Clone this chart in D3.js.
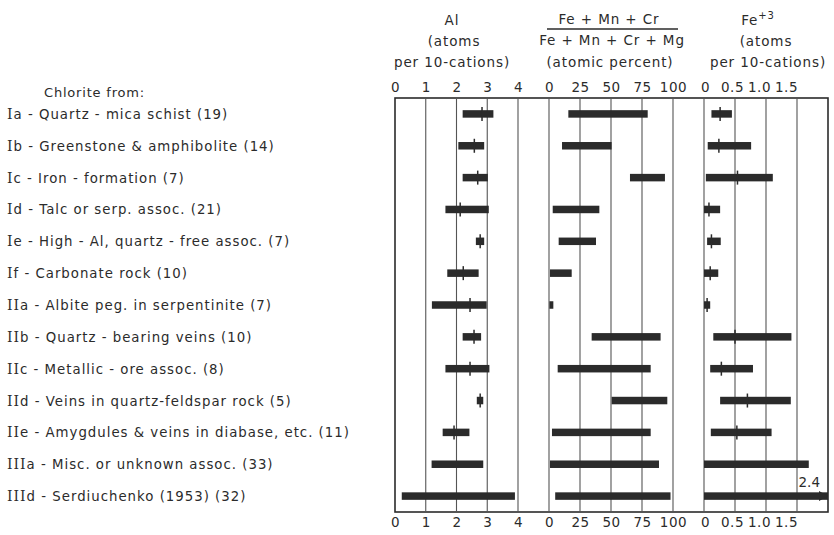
<!DOCTYPE html>
<html>
<head>
<meta charset="utf-8">
<script src="https://cdn.jsdelivr.net/npm/d3@7"></script>
<style>
  body { margin: 0; background: #fff; }
  text { font-family: "DejaVu Sans", sans-serif; fill: #2b2b2b; }
</style>
</head>
<body>
<svg id="chart" width="834" height="535"></svg>
<script>
// chlorite groups (roman numeral part, letter part, description)
var numerals = ['I','I','I','I','I','I','II','II','II','II','II','III','III'];
var letters  = ['a','b','c','d','e','f','a','b','c','d','e','a','d'];
var sources = [
  'Quartz - mica schist (19)',
  'Greenstone & amphibolite (14)',
  'Iron - formation (7)',
  'Talc or serp. assoc. (21)',
  'High - Al, quartz - free assoc. (7)',
  'Carbonate rock (10)',
  'Albite peg. in serpentinite (7)',
  'Quartz - bearing veins (10)',
  'Metallic - ore assoc. (8)',
  'Veins in quartz-feldspar rock (5)',
  'Amygdules & veins in diabase, etc. (11)',
  'Misc. or unknown assoc. (33)',
  'Serdiuchenko (1953) (32)'
];

// Al, atoms per 10 cations
var alMin  = [2.2, 2.06, 2.2, 1.64, 2.63, 1.7, 1.2, 2.2, 1.64, 2.66, 1.55, 1.19, 0.22];
var alMax  = [3.2, 2.9, 3.02, 3.05, 2.9, 2.72, 2.98, 2.8, 3.07, 2.87, 2.42, 2.87, 3.9];
var alMean = [2.83, 2.58, 2.69, 2.12, 2.77, 2.22, 2.44, 2.57, 2.44, 2.77, 1.92, null, null];

// (Fe+Mn+Cr)/(Fe+Mn+Cr+Mg), atomic percent
var feMin = [15.6, 10.5, 65.3, 3, 7.8, 0.8, 0.3, 34.4, 7, 50.5, 2.4, 0.8, 5];
var feMax = [79.6, 50.5, 93.5, 40.6, 37.9, 18.3, 3.5, 90, 82, 95.4, 82, 88.7, 98];

// Fe+3, atoms per 10 cations
var fe3Min  = [0.12, 0.06, 0.03, 0.0, 0.05, 0.0, 0.0, 0.15, 0.1, 0.26, 0.11, 0.0, 0.0];
var fe3Max  = [0.45, 0.76, 1.11, 0.26, 0.27, 0.23, 0.1, 1.41, 0.79, 1.4, 1.09, 1.69, 2.4];
var fe3Mean = [0.26, 0.24, 0.54, 0.08, 0.12, 0.1, 0.05, 0.5, 0.28, 0.7, 0.53, null, null];

var alTicks  = [0, 1, 2, 3, 4];
var feTicks  = [0, 25, 50, 75, 100];
var fe3Ticks = [0, 0.5, 1.0, 1.5];

var codes = numerals.map(function(n, i){ return n + letters[i]; });

var svg = d3.select('#chart');
var ink = '#2b2b2b';
var top_y = 98, bottom_y = 512;

var xAl  = d3.scaleLinear().domain([0, 4]).range([395, 518]);
var xFe  = d3.scaleLinear().domain([0, 100]).range([549, 673]);
var xFe3 = d3.scaleLinear().domain([0, 2]).range([704, 828]).clamp(true);
// hand lettered Fe+3 numbers sit a bit tighter than the grid
var xFe3Lbl = d3.scaleLinear().domain([0, 1.5]).range([705, 786]);

var y = d3.scaleBand().domain(codes).range([top_y, bottom_y]);

// frame
svg.append('rect')
  .attr('x', xAl(0)).attr('y', top_y)
  .attr('width', xFe3(2) - xAl(0)).attr('height', bottom_y - top_y)
  .attr('fill', 'none').attr('stroke', ink).attr('stroke-width', 1.6);

// grid lines
var grid = [];
alTicks.slice(1).forEach(function(t){ grid.push(xAl(t)); });
feTicks.forEach(function(t){ grid.push(xFe(t)); });
fe3Ticks.forEach(function(t){ grid.push(xFe3(t)); });

svg.append('g').selectAll('line')
  .data(grid)
  .enter().append('line')
  .attr('x1', function(d){ return d; }).attr('x2', function(d){ return d; })
  .attr('y1', top_y).attr('y2', bottom_y)
  .attr('stroke', '#555').attr('stroke-width', 1.1);

// tick labels top and bottom
function ticks(scale, vals, fmt){
  [[d3.axisTop, 92], [d3.axisBottom, 517]].forEach(function(a){
    var g = svg.append('g')
      .attr('transform', 'translate(0,' + a[1] + ')')
      .call(a[0](scale).tickValues(vals).tickSize(0).tickPadding(0).tickFormat(fmt));
    g.select('.domain').remove();
    g.selectAll('text')
      .attr('font-size', 13.5)
      .attr('letter-spacing', 0.5)
      .attr('fill', ink)
      .attr('dy', a[0] === d3.axisTop ? '0' : '0.71em');
  });
}
ticks(xAl, alTicks, d3.format('d'));
ticks(xFe, feTicks, d3.format('d'));
ticks(xFe3Lbl, fe3Ticks, function(d){ return d === 0 ? '0' : d3.format('.1f')(d); });

// column headers
var hdr = svg.append('g').attr('font-size', 13.5).attr('letter-spacing', 0.9).attr('text-anchor', 'middle');
hdr.append('text').attr('x', 452).attr('y', 25).text('Al');
hdr.append('text').attr('x', 454).attr('y', 46).text('(atoms');
hdr.append('text').attr('x', 452).attr('y', 67).text('per 10-cations)');
hdr.append('text').attr('x', 609).attr('y', 24).text('Fe + Mn + Cr');
hdr.append('text').attr('x', 612).attr('y', 45).text('Fe + Mn + Cr + Mg');
hdr.append('text').attr('x', 610).attr('y', 67).text('(atomic percent)');
var fe3 = hdr.append('text').attr('x', 758).attr('y', 25);
fe3.append('tspan').text('Fe');
fe3.append('tspan').attr('font-size', 10).attr('dy', -6).text('+3');
hdr.append('text').attr('x', 766).attr('y', 46).text('(atoms');
hdr.append('text').attr('x', 768).attr('y', 67).text('per 10-cations)');

svg.append('line')
  .attr('x1', 547).attr('x2', 678).attr('y1', 29).attr('y2', 29)
  .attr('stroke', ink).attr('stroke-width', 1.6);

// row labels
svg.append('text')
  .attr('x', 44).attr('y', 97)
  .attr('font-size', 13).attr('letter-spacing', 0.8)
  .text('Chlorite from:');

var lbl = svg.append('g').selectAll('text')
  .data(codes)
  .enter().append('text')
  .attr('x', 7)
  .attr('y', function(d){ return y(d) + y.bandwidth()/2 + 5; })
  .attr('font-size', 13.3).attr('letter-spacing', 1);
lbl.append('tspan')
  .attr('font-family', '"DejaVu Serif", serif')
  .attr('font-size', 14)
  .text(function(d, i){ return numerals[i]; });
lbl.append('tspan')
  .text(function(d, i){ return letters[i] + ' - ' + sources[i]; });

// range bars
var barH = 7.5;
function bars(scale, lo, hi, mean){
  var g = svg.append('g');
  g.selectAll('rect')
    .data(codes)
    .enter().append('rect')
    .attr('x', function(d, i){ return scale(lo[i]); })
    .attr('y', function(d){ return y(d) + y.bandwidth()/2 - barH/2; })
    .attr('width', function(d, i){ return Math.max(scale(hi[i]) - scale(lo[i]), 3); })
    .attr('height', barH)
    .attr('fill', ink);
  if (!mean) return;
  g.selectAll('line')
    .data(codes.filter(function(d, i){ return mean[i] != null; }))
    .enter().append('line')
    .attr('x1', function(d){ return scale(mean[codes.indexOf(d)]); })
    .attr('x2', function(d){ return scale(mean[codes.indexOf(d)]); })
    .attr('y1', function(d){ return y(d) + y.bandwidth()/2 - 7; })
    .attr('y2', function(d){ return y(d) + y.bandwidth()/2 + 7; })
    .attr('stroke', ink).attr('stroke-width', 1.5);
}
bars(xAl, alMin, alMax, alMean);
bars(xFe, feMin, feMax, null);
bars(xFe3, fe3Min, fe3Max, fe3Mean);

// off scale value gets an arrow and its number
fe3Max.forEach(function(v, i){
  if (v <= 2) return;
  var cy = y(codes[i]) + y.bandwidth()/2;
  var ex = xFe3(2);
  svg.append('path')
    .attr('d', 'M' + (ex - 9) + ',' + (cy - 5) + 'L' + ex + ',' + cy + 'L' + (ex - 9) + ',' + (cy + 5) + 'Z')
    .attr('fill', ink);
  svg.append('text')
    .attr('x', ex - 8).attr('y', cy - 9)
    .attr('text-anchor', 'end')
    .attr('font-size', 13.5)
    .text(d3.format('.1f')(v));
});
</script>
</body>
</html>
